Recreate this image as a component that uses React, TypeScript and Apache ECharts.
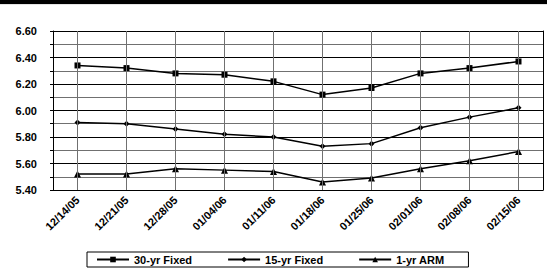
import React, { useEffect, useRef } from "react";
import * as echarts from "echarts";

const categories = ["12/14/05", "12/21/05", "12/28/05", "01/04/06", "01/11/06", "01/18/06", "01/25/06", "02/01/06", "02/08/06", "02/15/06"];
const fixed30 = [6.34, 6.32, 6.28, 6.27, 6.22, 6.12, 6.17, 6.28, 6.32, 6.37];
const fixed15 = [5.91, 5.9, 5.86, 5.82, 5.8, 5.73, 5.75, 5.87, 5.95, 6.02];
const arm1 = [5.52, 5.52, 5.56, 5.55, 5.54, 5.46, 5.49, 5.56, 5.62, 5.69];
const seriesNames = ["30-yr Fixed", "15-yr Fixed", "1-yr ARM"];
const yMin = 5.4;
const yMax = 6.6;
const yStep = 0.2;
const yMinorStep = 0.1;

export default function App() {
  const ref = useRef<HTMLDivElement>(null);
  useEffect(() => {
    if (!ref.current) return;
    const chart = echarts.init(ref.current, undefined, { renderer: "svg" });
    const font = "Liberation Sans, Arial, sans-serif";
    const lineStyle = { color: "#000", width: 1.5 };
    chart.setOption({
      animation: false,
      backgroundColor: "#fff",
      textStyle: { fontFamily: font },
      graphic: [
        { type: "rect", shape: { x: 0, y: 0, width: 547, height: 4 }, style: { fill: "#000" } },
        { type: "rect", shape: { x: 0, y: 4, width: 547, height: 1 }, style: { fill: "#e4e4e4" } },
      ],
      grid: { left: 53, right: 4, top: 31, bottom: 85, containLabel: false },
      legend: {
        data: seriesNames,
        left: 87,
        top: 252,
        orient: "horizontal",
        borderColor: "#000",
        borderWidth: 1,
        borderRadius: 0,
        padding: [2, 24, 2, 9],
        itemGap: 35,
        itemWidth: 32,
        itemHeight: 7,
        textStyle: { fontFamily: font, fontWeight: "bold", fontSize: 11, color: "#000" },
      },
      xAxis: [
        {
          type: "category",
          data: categories,
          boundaryGap: true,
          axisLine: { show: true, lineStyle: { color: "#000", width: 1 } },
          axisTick: { show: false },
          splitLine: { show: false },
          axisLabel: { rotate: 45, margin: 8, fontFamily: font, fontWeight: "bold", fontSize: 11, color: "#000", interval: 0 },
        },
      ],
      yAxis: [
        {
          type: "value",
          min: yMin,
          max: yMax,
          interval: yMinorStep,
          z: 1,
          axisLine: { show: false },
          axisTick: { show: true, length: 3, lineStyle: { color: "#000", width: 1 } },
          axisLabel: { show: false },
          splitLine: { show: true, lineStyle: { color: "#707070", width: 1 } },
        },
        {
          type: "value",
          position: "left",
          min: yMin,
          max: yMax,
          interval: yStep,
          z: 2,
          axisLine: { show: true, lineStyle: { color: "#000", width: 1 } },
          axisTick: { show: false },
          splitLine: { show: true, lineStyle: { color: "#000", width: 1 } },
          axisLabel: {
            margin: 16,
            fontFamily: font,
            fontWeight: "bold",
            fontSize: 11,
            color: "#000",
            formatter: (v: number) => v.toFixed(2),
          },
        },
        {
          type: "value",
          position: "right",
          min: yMin,
          max: yMax,
          interval: yStep,
          z: 2,
          axisLine: { show: true, lineStyle: { color: "#000", width: 1 } },
          axisTick: { show: false },
          axisLabel: { show: false },
          splitLine: { show: false },
        },
      ],
      series: [
        {
          name: "grid-v",
          type: "line",
          data: fixed30,
          showSymbol: false,
          silent: true,
          z: 1,
          lineStyle: { width: 0, opacity: 0 },
          markLine: {
            silent: true,
            symbol: "none",
            label: { show: false },
            lineStyle: { color: "#707070", width: 1, type: "solid" },
            data: categories.map((c) => ({ xAxis: c })),
          },
        },
        { name: seriesNames[0], type: "line", data: fixed30, symbol: "rect", symbolSize: 6, z: 3, itemStyle: { color: "#000" }, lineStyle },
        { name: seriesNames[1], type: "line", data: fixed15, symbol: "diamond", symbolSize: 6, z: 3, itemStyle: { color: "#000" }, lineStyle },
        { name: seriesNames[2], type: "line", data: arm1, symbol: "triangle", symbolSize: 7, z: 3, itemStyle: { color: "#000" }, lineStyle },
      ],
    });
    return () => chart.dispose();
  }, []);
  return <div ref={ref} style={{ position: "absolute", left: 0, top: 0, width: 547, height: 275 }} />;
}
